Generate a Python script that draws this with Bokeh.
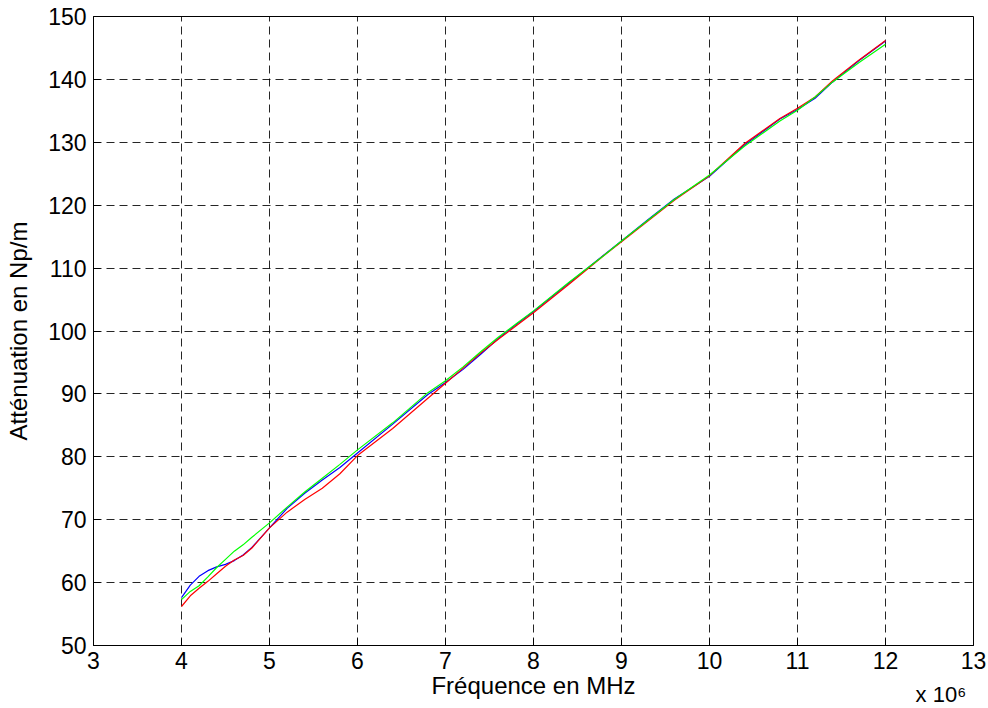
from bokeh.plotting import figure
from bokeh.models import Range1d, FixedTicker, LinearAxis
from bokeh.embed import file_html
from bokeh.resources import INLINE

# Frequency (x 10^6 Hz)
freq = [4.0, 4.1, 4.2, 4.3, 4.4, 4.5, 4.6, 4.7, 4.8, 5.0, 5.2, 5.4, 5.6, 5.8,
        6.0, 6.4, 6.8, 7.0, 7.2, 7.4, 7.6, 7.8, 8.0, 8.4, 8.8, 9.0, 9.3, 9.6,
        10.0, 10.4, 10.8, 11.0, 11.2, 11.4, 11.7, 12.0]

att_blue = [57.6, 59.6, 61.0, 61.9, 62.5, 62.9, 63.5, 64.4, 65.6, 68.7, 71.8, 74.2,
            76.3, 78.3, 80.6, 85.2, 89.9, 91.8, 93.9, 96.3, 98.8, 101.0, 103.1,
            107.6, 112.1, 114.3, 117.7, 121.0, 124.6, 129.6, 133.7, 135.2, 137.0,
            139.6, 143.0, 146.1]

att_red = [56.2, 57.9, 59.1, 60.2, 61.4, 62.6, 63.6, 64.3, 65.5, 68.7, 71.2, 73.2,
           75.0, 77.3, 80.2, 84.5, 89.3, 91.7, 94.1, 96.5, 98.7, 100.8, 102.9,
           107.4, 112.0, 114.2, 117.5, 120.8, 124.7, 129.8, 133.8, 135.4, 137.2,
           139.8, 143.1, 146.2]

att_green = [57.3, 58.6, 59.5, 60.9, 62.4, 63.7, 65.0, 66.0, 67.2, 69.5, 72.0, 74.4,
             76.6, 78.8, 81.1, 85.4, 90.2, 92.1, 94.3, 96.7, 99.0, 101.1, 103.2,
             107.7, 112.0, 114.3, 117.6, 120.9, 124.8, 129.4, 133.4, 135.1, 137.2,
             139.6, 142.7, 145.6]

x_ticks = [3, 4, 5, 6, 7, 8, 9, 10, 11, 12, 13]
y_ticks = [50, 60, 70, 80, 90, 100, 110, 120, 130, 140, 150]
x_label = "Fréquence en MHz"
y_label = "Atténuation en Np/m"
x_multiplier = "x 10⁶"
x_multiplier_pos = 12.63

FONT = "Liberation Sans"

p = figure(width=986, height=706, output_backend="svg", toolbar_location=None,
           x_range=Range1d(3, 13), y_range=Range1d(50, 150),
           min_border_left=93, min_border_right=13, min_border_top=16,
           min_border_bottom=61, background_fill_color="white",
           border_fill_color="white")

p.outline_line_color = "black"
p.outline_line_width = 1

for ax in (p.xaxis[0], p.yaxis[0]):
    ax.major_label_text_font = FONT
    ax.major_label_text_font_size = "23px"
    ax.major_label_text_color = "black"
    ax.axis_label_text_font = FONT
    ax.axis_label_text_font_size = "24px"
    ax.axis_label_text_font_style = "normal"
    ax.axis_label_text_color = "black"
    ax.major_tick_in = 7
    ax.major_tick_out = 0
    ax.minor_tick_in = 0
    ax.minor_tick_out = 0
    ax.axis_line_color = "black"
    ax.major_tick_line_color = "black"

p.xaxis[0].major_label_standoff = 6
p.yaxis[0].major_label_standoff = 7
p.xaxis[0].ticker = FixedTicker(ticks=x_ticks)
p.yaxis[0].ticker = FixedTicker(ticks=y_ticks)
p.yaxis[0].axis_label = y_label
p.yaxis[0].axis_label_standoff = 13

# second axis below carrying the "x 10^6" multiplier and the x-axis title
ax2 = LinearAxis(ticker=FixedTicker(ticks=[x_multiplier_pos]),
                 major_label_overrides={x_multiplier_pos: x_multiplier},
                 major_label_text_font=FONT, major_label_text_font_size="22px",
                 major_label_text_color="black", major_label_standoff=10,
                 axis_line_color=None, major_tick_line_color=None,
                 minor_tick_line_color=None, major_tick_in=0, major_tick_out=0,
                 minor_tick_in=0, minor_tick_out=0,
                 axis_label=x_label, axis_label_text_font=FONT,
                 axis_label_text_font_size="24px", axis_label_text_font_style="normal",
                 axis_label_text_color="black", axis_label_standoff=-38)
p.add_layout(ax2, "below")

p.xgrid.ticker = FixedTicker(ticks=x_ticks)
p.ygrid.ticker = FixedTicker(ticks=y_ticks)
for g in (p.xgrid[0], p.ygrid[0]):
    g.grid_line_color = "black"
    g.grid_line_dash = "8 5"
    g.grid_line_width = 1
    g.grid_line_alpha = 0.85

p.line(freq, att_blue, line_color="#0000ff", line_width=1.2)
p.line(freq, att_red, line_color="#ff0000", line_width=1.2)
p.line(freq, att_green, line_color="#00ff00", line_width=1.2)

open("out.html", "w").write(file_html(p, INLINE))
